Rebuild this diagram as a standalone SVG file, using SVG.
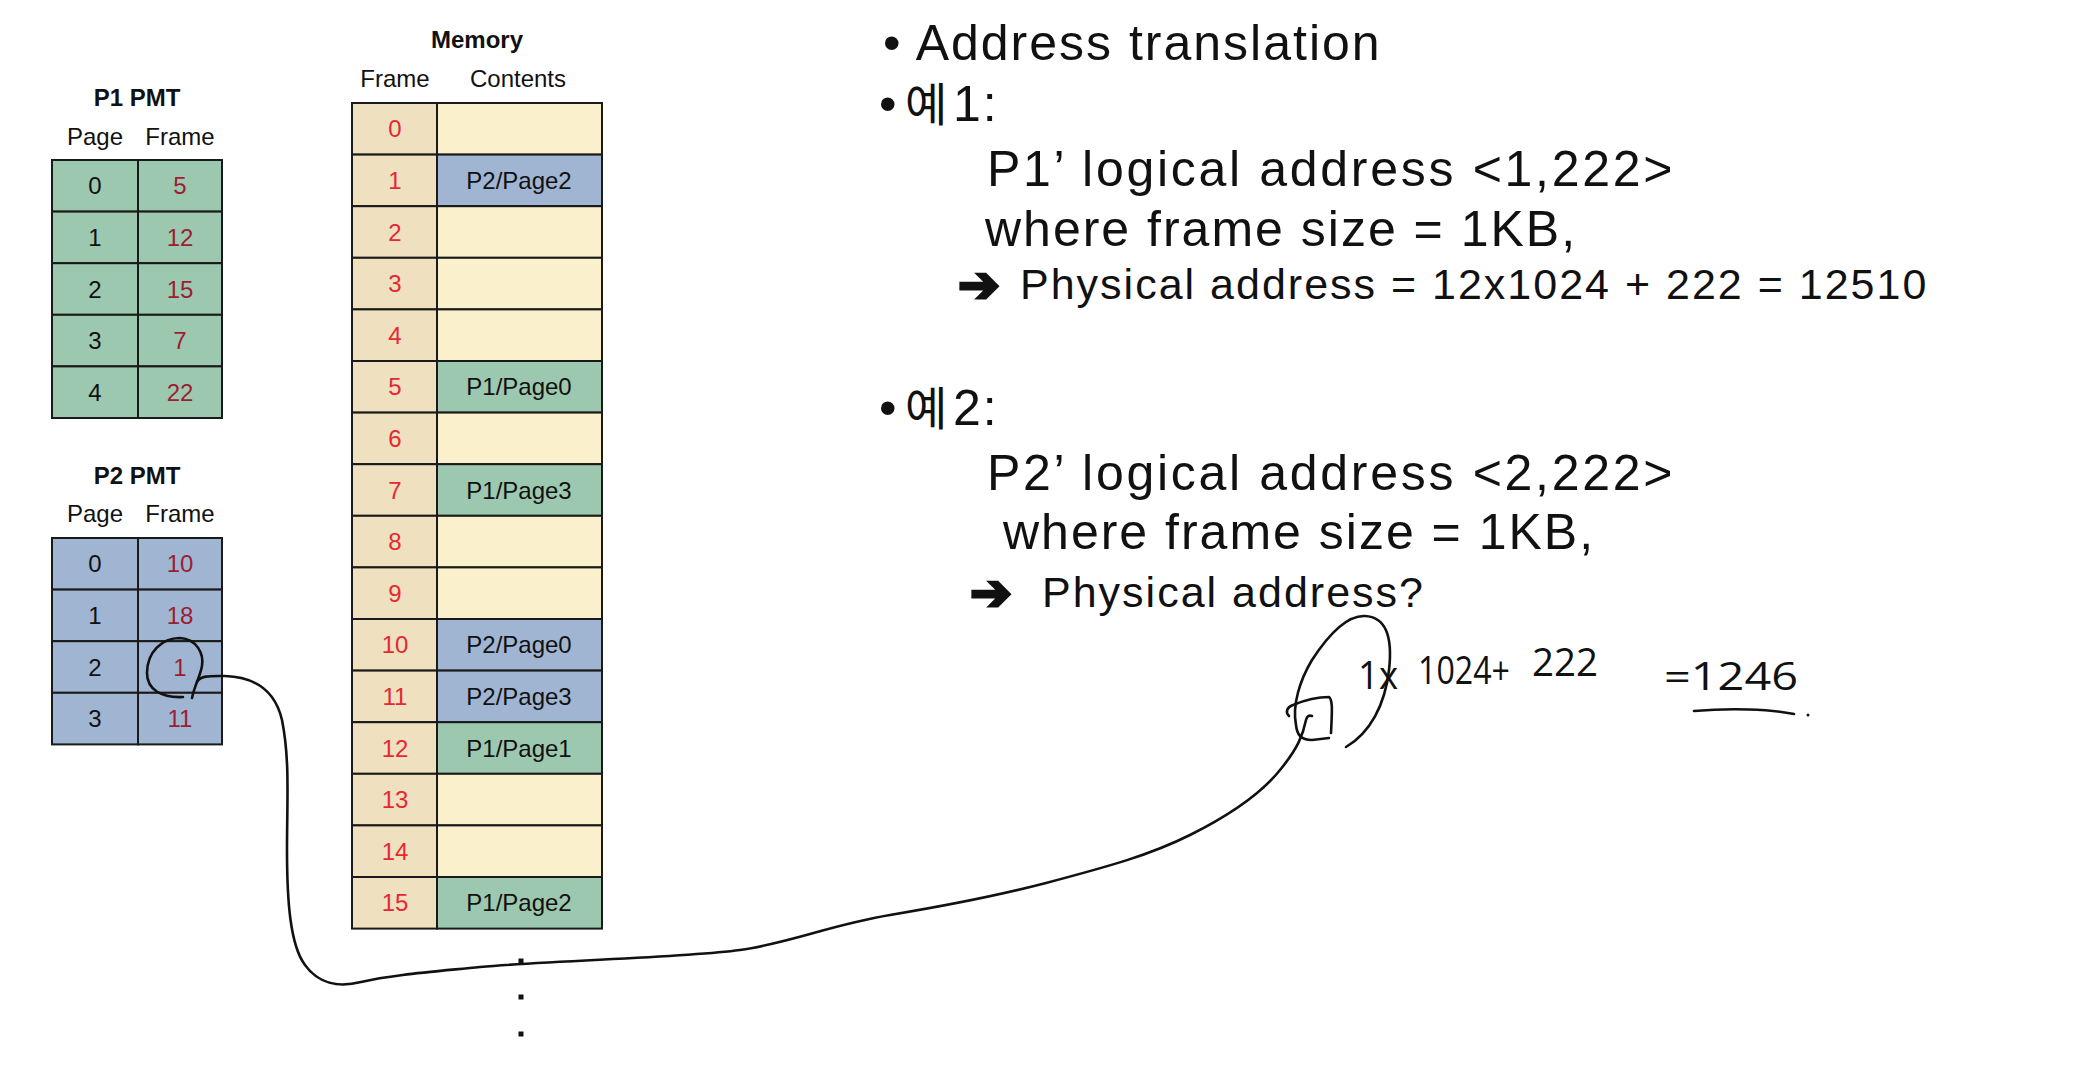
<svg xmlns="http://www.w3.org/2000/svg" width="2078" height="1086" viewBox="0 0 2078 1086">
<style>
.t{font-family:"Liberation Sans",Arial,sans-serif;font-size:24px;fill:#111;text-anchor:middle}
.b{font-weight:bold}
.g{fill:#9dc8b0;stroke:#1a1a1a;stroke-width:2}
.u{fill:#a0b5d2;stroke:#1a1a1a;stroke-width:2}
.f{fill:#efe0c0;stroke:#1a1a1a;stroke-width:2}
.e{fill:#faf1cc;stroke:#1a1a1a;stroke-width:2}
.pr{fill:#9b1e32}
.mr{fill:#e52833}
.big{font-family:"Liberation Sans","Noto Sans CJK KR",sans-serif;font-size:50px;letter-spacing:2px;fill:#111}
.wide{letter-spacing:2.7px}
.mid{font-family:"Liberation Sans","Noto Sans CJK KR",sans-serif;font-size:43px;letter-spacing:2px;fill:#111}
.kr{font-family:"Noto Sans CJK KR",sans-serif;font-size:46px;letter-spacing:0}
.arr{font-family:"DejaVu Sans",sans-serif;font-size:50px;font-weight:bold;fill:#111;stroke:#111;stroke-width:3;stroke-linejoin:miter}
.hw{fill:none;stroke:#111;stroke-width:2.6;stroke-linecap:round;stroke-linejoin:round}
.hand{font-family:"Open Sans","DejaVu Sans",sans-serif;font-weight:400;font-size:38px;fill:#111}
</style>
<rect width="2078" height="1086" fill="#fff"/>

<g id="p1pmt">
<text class="t b" x="137" y="106">P1 PMT</text>
<text class="t" x="95" y="145">Page</text>
<text class="t" x="180" y="145">Frame</text>
<rect class="g" x="52" y="160" width="86" height="51.6"/><rect class="g" x="138" y="160" width="84" height="51.6"/>
<rect class="g" x="52" y="211.6" width="86" height="51.6"/><rect class="g" x="138" y="211.6" width="84" height="51.6"/>
<rect class="g" x="52" y="263.2" width="86" height="51.6"/><rect class="g" x="138" y="263.2" width="84" height="51.6"/>
<rect class="g" x="52" y="314.8" width="86" height="51.6"/><rect class="g" x="138" y="314.8" width="84" height="51.6"/>
<rect class="g" x="52" y="366.4" width="86" height="51.6"/><rect class="g" x="138" y="366.4" width="84" height="51.6"/>
<text class="t" x="95" y="194.3">0</text><text class="t pr" x="180" y="194.3">5</text>
<text class="t" x="95" y="245.9">1</text><text class="t pr" x="180" y="245.9">12</text>
<text class="t" x="95" y="297.5">2</text><text class="t pr" x="180" y="297.5">15</text>
<text class="t" x="95" y="349.1">3</text><text class="t pr" x="180" y="349.1">7</text>
<text class="t" x="95" y="400.7">4</text><text class="t pr" x="180" y="400.7">22</text>
</g>

<g id="p2pmt">
<text class="t b" x="137" y="484">P2 PMT</text>
<text class="t" x="95" y="522">Page</text>
<text class="t" x="180" y="522">Frame</text>
<rect class="u" x="52" y="538" width="86" height="51.6"/><rect class="u" x="138" y="538" width="84" height="51.6"/>
<rect class="u" x="52" y="589.6" width="86" height="51.6"/><rect class="u" x="138" y="589.6" width="84" height="51.6"/>
<rect class="u" x="52" y="641.2" width="86" height="51.6"/><rect class="u" x="138" y="641.2" width="84" height="51.6"/>
<rect class="u" x="52" y="692.8" width="86" height="51.6"/><rect class="u" x="138" y="692.8" width="84" height="51.6"/>
<text class="t" x="95" y="572.3">0</text><text class="t pr" x="180" y="572.3">10</text>
<text class="t" x="95" y="623.9">1</text><text class="t pr" x="180" y="623.9">18</text>
<text class="t" x="95" y="675.5">2</text><text class="t pr" x="180" y="675.5">1</text>
<text class="t" x="95" y="727.1">3</text><text class="t pr" x="180" y="727.1">11</text>
</g>

<g id="memory">
<text class="t b" x="477" y="48">Memory</text>
<text class="t" x="395" y="87">Frame</text>
<text class="t" x="518" y="87">Contents</text>
<rect class="f" x="352" y="103" width="85" height="51.6"/><rect class="e" x="437" y="103" width="165" height="51.6"/>
<rect class="f" x="352" y="154.6" width="85" height="51.6"/><rect class="u" x="437" y="154.6" width="165" height="51.6"/>
<rect class="f" x="352" y="206.2" width="85" height="51.6"/><rect class="e" x="437" y="206.2" width="165" height="51.6"/>
<rect class="f" x="352" y="257.8" width="85" height="51.6"/><rect class="e" x="437" y="257.8" width="165" height="51.6"/>
<rect class="f" x="352" y="309.4" width="85" height="51.6"/><rect class="e" x="437" y="309.4" width="165" height="51.6"/>
<rect class="f" x="352" y="361" width="85" height="51.6"/><rect class="g" x="437" y="361" width="165" height="51.6"/>
<rect class="f" x="352" y="412.6" width="85" height="51.6"/><rect class="e" x="437" y="412.6" width="165" height="51.6"/>
<rect class="f" x="352" y="464.2" width="85" height="51.6"/><rect class="g" x="437" y="464.2" width="165" height="51.6"/>
<rect class="f" x="352" y="515.8" width="85" height="51.6"/><rect class="e" x="437" y="515.8" width="165" height="51.6"/>
<rect class="f" x="352" y="567.4" width="85" height="51.6"/><rect class="e" x="437" y="567.4" width="165" height="51.6"/>
<rect class="f" x="352" y="619" width="85" height="51.6"/><rect class="u" x="437" y="619" width="165" height="51.6"/>
<rect class="f" x="352" y="670.6" width="85" height="51.6"/><rect class="u" x="437" y="670.6" width="165" height="51.6"/>
<rect class="f" x="352" y="722.2" width="85" height="51.6"/><rect class="g" x="437" y="722.2" width="165" height="51.6"/>
<rect class="f" x="352" y="773.8" width="85" height="51.6"/><rect class="e" x="437" y="773.8" width="165" height="51.6"/>
<rect class="f" x="352" y="825.4" width="85" height="51.6"/><rect class="e" x="437" y="825.4" width="165" height="51.6"/>
<rect class="f" x="352" y="877" width="85" height="51.6"/><rect class="g" x="437" y="877" width="165" height="51.6"/>
<text class="t mr" x="395" y="137.3">0</text>
<text class="t mr" x="395" y="188.9">1</text><text class="t" x="519" y="188.9">P2/Page2</text>
<text class="t mr" x="395" y="240.5">2</text>
<text class="t mr" x="395" y="292.1">3</text>
<text class="t mr" x="395" y="343.7">4</text>
<text class="t mr" x="395" y="395.3">5</text><text class="t" x="519" y="395.3">P1/Page0</text>
<text class="t mr" x="395" y="446.9">6</text>
<text class="t mr" x="395" y="498.5">7</text><text class="t" x="519" y="498.5">P1/Page3</text>
<text class="t mr" x="395" y="550.1">8</text>
<text class="t mr" x="395" y="601.7">9</text>
<text class="t mr" x="395" y="653.3">10</text><text class="t" x="519" y="653.3">P2/Page0</text>
<text class="t mr" x="395" y="704.9">11</text><text class="t" x="519" y="704.9">P2/Page3</text>
<text class="t mr" x="395" y="756.5">12</text><text class="t" x="519" y="756.5">P1/Page1</text>
<text class="t mr" x="395" y="808.1">13</text>
<text class="t mr" x="395" y="859.7">14</text>
<text class="t mr" x="395" y="911.3">15</text><text class="t" x="519" y="911.3">P1/Page2</text>
<rect x="518.5" y="958.5" width="5" height="5" fill="#111"/>
<rect x="518.5" y="994.5" width="5" height="5" fill="#111"/>
<rect x="518.5" y="1031.5" width="5" height="5" fill="#111"/>
</g>

<g id="notes">
<text class="big" x="883" y="60">• Address translation</text>
<text class="big" x="879" y="121">•<tspan class="kr" x="905">예</tspan><tspan x="953">1:</tspan></text>
<text class="big wide" x="987" y="186">P1’ logical address &lt;1,222&gt;</text>
<text class="big" x="985" y="246">where frame size = 1KB,</text>
<text class="arr" x="958" y="302">➔</text>
<text class="mid" x="1020" y="299">Physical address = 12x1024 + 222 = 12510</text>
<text class="big" x="879" y="425">•<tspan class="kr" x="905">예</tspan><tspan x="953">2:</tspan></text>
<text class="big wide" x="987" y="490">P2’ logical address &lt;2,222&gt;</text>
<text class="big" x="1003" y="549">where frame size = 1KB,</text>
<text class="arr" x="970" y="610">➔</text>
<text class="mid" x="1042" y="607">Physical address?</text>
</g>

<g id="annotation">
<text class="hand" x="1358" y="689" textLength="40" lengthAdjust="spacingAndGlyphs">1x</text>
<text class="hand" x="1418" y="684" textLength="92" lengthAdjust="spacingAndGlyphs">1024+</text>
<text class="hand" x="1532" y="676" textLength="66" lengthAdjust="spacingAndGlyphs">222</text>
<text class="hand" x="1664" y="690" textLength="134" lengthAdjust="spacingAndGlyphs">=1246</text>
<path class="hw" d="M1694,711 C1730,708 1770,709 1794,714"/>
<circle cx="1808" cy="715" r="1.5" fill="#111"/>
<path class="hw" d="M1346,747 C1370,733 1385,705 1389,670 C1393,635 1385,617 1365,616 C1345,615 1325,640 1312,660 C1300,680 1292,705 1296,725 C1297,735 1301,740 1312,740 L1329,738"/>
<path class="hw" d="M1289,716 C1285,712 1287,707 1293,705 C1305,700 1318,697 1329,697 C1333,700 1332,712 1331,733"/>
</g>

<g id="connectors">
<path class="hw" d="M183,697 C162,698 147,690 147,673 C147,652 162,638 180,638 C197,639 204,654 202,666 C200,677 195,684 192,698"/>
<path class="hw" d="M197,682 C200,675 212,676 225,676 C255,677 275,690 282,720 C290,760 287,800 287,850 C287,900 290,945 305,965 C318,983 338,988 361,982 C390,975 430,972 480,967 C560,960 680,958 740,950 C790,943 830,925 890,915 C950,905 1000,895 1046,883 C1110,866 1150,855 1190,835 C1230,815 1260,795 1280,770 C1298,748 1303,735 1306,720 C1307,716 1309,715 1312,716"/>
</g>
</svg>
